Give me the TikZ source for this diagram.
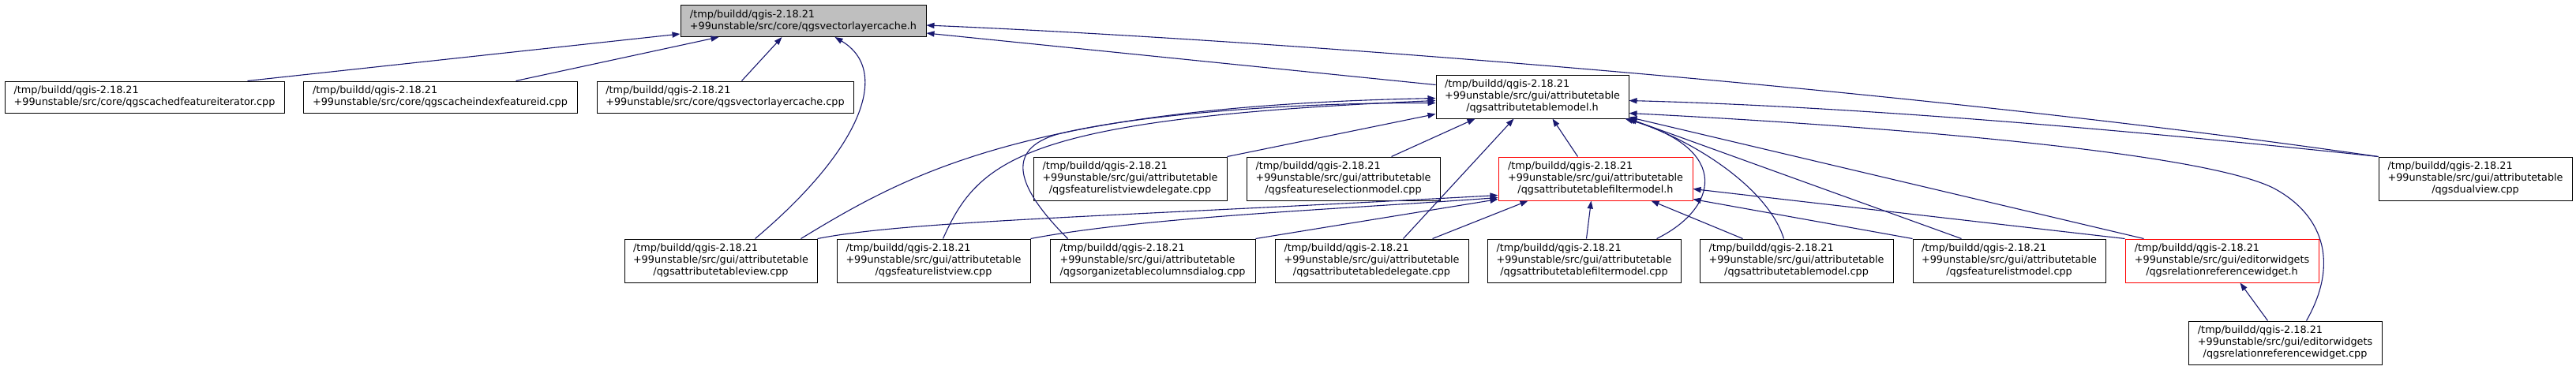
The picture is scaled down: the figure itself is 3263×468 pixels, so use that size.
\documentclass[tikz,border=0pt]{standalone}
\usepackage{fontspec}
\setmainfont{DejaVu Sans}
\usetikzlibrary{arrows.meta,calc}
\definecolor{edgeblue}{HTML}{191970}
\definecolor{nodegray}{HTML}{BFBFBF}
\newcommand\lbltwo[2]{\begin{tabular}{@{}l@{}}#1\\\multicolumn{1}{@{}c@{}}{#2}\end{tabular}}
\newcommand\lblthree[3]{\begin{tabular}{@{}l@{}}#1\\#2\\\multicolumn{1}{@{}c@{}}{#3}\end{tabular}}
\tikzset{
  filebox/.style={draw=black, fill=white, line width=0.5pt, inner sep=0pt,
    font=\fontsize{6.4}{7.5}\selectfont},
  twoline/.style={filebox, minimum height=20pt},
  threeline/.style={filebox, minimum height=27.5pt},
  redbox/.style={draw=red},
  dep/.style={draw=edgeblue, line width=0.55pt, -{Triangle[length=5pt,width=3.6pt]}}
}
\begin{document}
\begin{tikzpicture}[x=0.5pt,y=-0.5pt]
\useasboundingbox (0,0) rectangle (3263,468);
% row 1
\node[twoline, fill=nodegray, minimum width=155.5pt] (A) at (1017.5,26.5)
  {\lbltwo{/tmp/buildd/qgis-2.18.21}{+99unstable/src/core/qgsvectorlayercache.h}};
% row 2
\node[twoline, minimum width=177pt] (B1) at (183,123)
  {\lbltwo{/tmp/buildd/qgis-2.18.21}{+99unstable/src/core/qgscachedfeatureiterator.cpp}};
\node[twoline, minimum width=173.5pt] (B2) at (557.5,123)
  {\lbltwo{/tmp/buildd/qgis-2.18.21}{+99unstable/src/core/qgscacheindexfeatureid.cpp}};
\node[twoline, minimum width=162.5pt] (B3) at (918.5,123)
  {\lbltwo{/tmp/buildd/qgis-2.18.21}{+99unstable/src/core/qgsvectorlayercache.cpp}};
\node[threeline, minimum width=122pt] (C) at (1941,122.5)
  {\lblthree{/tmp/buildd/qgis-2.18.21}{+99unstable/src/gui/attributetable}{/qgsattributetablemodel.h}};
% row 3
\node[threeline, minimum width=122.5pt] (D1) at (1431.5,226.5)
  {\lblthree{/tmp/buildd/qgis-2.18.21}{+99unstable/src/gui/attributetable}{/qgsfeaturelistviewdelegate.cpp}};
\node[threeline, minimum width=122.5pt] (D2) at (1701.5,226.5)
  {\lblthree{/tmp/buildd/qgis-2.18.21}{+99unstable/src/gui/attributetable}{/qgsfeatureselectionmodel.cpp}};
\node[threeline, redbox, minimum width=123pt] (D3) at (2021,226.5)
  {\lblthree{/tmp/buildd/qgis-2.18.21}{+99unstable/src/gui/attributetable}{/qgsattributetablefiltermodel.h}};
\node[threeline, minimum width=122.5pt] (D4) at (3135.5,226.5)
  {\lblthree{/tmp/buildd/qgis-2.18.21}{+99unstable/src/gui/attributetable}{/qgsdualview.cpp}};
% row 4
\node[threeline, minimum width=122pt] (E1) at (913,330.5)
  {\lblthree{/tmp/buildd/qgis-2.18.21}{+99unstable/src/gui/attributetable}{/qgsattributetableview.cpp}};
\node[threeline, minimum width=122.5pt] (E2) at (1182.5,330.5)
  {\lblthree{/tmp/buildd/qgis-2.18.21}{+99unstable/src/gui/attributetable}{/qgsfeaturelistview.cpp}};
\node[threeline, minimum width=130pt] (E3) at (1460,330.5)
  {\lblthree{/tmp/buildd/qgis-2.18.21}{+99unstable/src/gui/attributetable}{/qgsorganizetablecolumnsdialog.cpp}};
\node[threeline, minimum width=122.5pt] (E4) at (1737.5,330.5)
  {\lblthree{/tmp/buildd/qgis-2.18.21}{+99unstable/src/gui/attributetable}{/qgsattributetabledelegate.cpp}};
\node[threeline, minimum width=122.5pt] (E5) at (2006.5,330.5)
  {\lblthree{/tmp/buildd/qgis-2.18.21}{+99unstable/src/gui/attributetable}{/qgsattributetablefiltermodel.cpp}};
\node[threeline, minimum width=122.5pt] (E6) at (2275.5,330.5)
  {\lblthree{/tmp/buildd/qgis-2.18.21}{+99unstable/src/gui/attributetable}{/qgsattributetablemodel.cpp}};
\node[threeline, minimum width=122pt] (E7) at (2545,330.5)
  {\lblthree{/tmp/buildd/qgis-2.18.21}{+99unstable/src/gui/attributetable}{/qgsfeaturelistmodel.cpp}};
\node[threeline, redbox, minimum width=122.5pt] (E8) at (2814.5,330.5)
  {\lblthree{/tmp/buildd/qgis-2.18.21}{+99unstable/src/gui/editorwidgets}{/qgsrelationreferencewidget.h}};
% row 5
\node[threeline, minimum width=122.5pt] (F) at (2894.5,434.5)
  {\lblthree{/tmp/buildd/qgis-2.18.21}{+99unstable/src/gui/editorwidgets}{/qgsrelationreferencewidget.cpp}};

% edges into A
\draw[dep] ($(B1.north west)+(308,0)$) -- ($(A.south west)+(0,-4)$);
\draw[dep] ($(B2.north west)+(270,0)$) -- ($(A.south west)+(49,0)$);
\draw[dep] ($(B3.north west)+(184,0)$) -- ($(A.south west)+(129,0)$);
\draw[dep] ($(E1.north west)+(166,0)$) .. controls (1090,190) and (1130,90) .. ($(A.south west)+(196,0)$);
\draw[dep] ($(C.north west)+(0,13)$) -- ($(A.south east)+(0,-5)$);
\draw[dep] (D4.north west) .. controls (2400,110) and (1600,50) .. ($(A.south east)+(0,-15)$);
% edges into C
\draw[dep] (D4.north west) .. controls (2700,165) and (2350,135) .. ($(C.south east)+(0,-23)$);
\draw[dep] ($(F.north west)+(150,0)$) .. controls (2965,330) and (2940,270) .. (2879,238)
  .. controls (2780,190) and (2350,158) .. ($(C.south east)+(0,-7)$);
\draw[dep] ($(E8.north west)+(24,0)$) -- ($(C.south east)+(0,-2)$);
\draw[dep] ($(E7.north west)+(62,0)$) -- (C.south east);
\draw[dep] ($(E6.north west)+(107,0)$) .. controls (2240,240) and (2150,180) .. ($(C.south east)+(-2,0)$);
\draw[dep] ($(E5.north west)+(215,0)$) .. controls (2175,265) and (2195,190) .. ($(C.south east)+(-5,0)$);
\draw[dep] ($(E4.north west)+(163,0)$) -- ($(C.south west)+(99,0)$);
\draw[dep] ($(D3.north west)+(101,0)$) -- ($(C.south west)+(148,0)$);
\draw[dep] ($(D2.north west)+(184,0)$) -- ($(C.south west)+(50,0)$);
\draw[dep] (D1.north east) -- ($(C.south west)+(0,-6)$);
\draw[dep] ($(E1.north west)+(224,0)$) .. controls (1150,220) and (1300,135) .. ($(C.south west)+(0,-26)$);
\draw[dep] ($(E2.north west)+(135,0)$) .. controls (1240,200) and (1300,150) .. ($(C.south west)+(0,-23)$);
\draw[dep] ($(E3.north west)+(23,0)$) .. controls (1290,240) and (1270,190) .. (1340,170)
  .. controls (1420,150) and (1600,130) .. ($(C.south west)+(0,-20)$);
% edges into D3
\draw[dep] (E1.north east) .. controls (1150,280) and (1400,275) .. ($(D3.south west)+(0,-7)$);
\draw[dep] (E2.north east) .. controls (1450,275) and (1700,265) .. ($(D3.south west)+(0,-4)$);
\draw[dep] (E3.north east) -- ($(D3.south west)+(0,-2)$);
\draw[dep] ($(E4.north west)+(200,0)$) -- ($(D3.south west)+(38,0)$);
\draw[dep] ($(E5.north west)+(126,0)$) -- ($(D3.south west)+(118,0)$);
\draw[dep] ($(E6.north west)+(55,0)$) -- ($(D3.south west)+(194,0)$);
\draw[dep] (E7.north west) -- ($(D3.south east)+(0,-2)$);
\draw[dep] (E8.north west) -- ($(D3.south east)+(0,-15)$);
% edge into E8
\draw[dep] ($(F.north west)+(101,0)$) -- ($(E8.south west)+(146,0)$);
\end{tikzpicture}
\end{document}
